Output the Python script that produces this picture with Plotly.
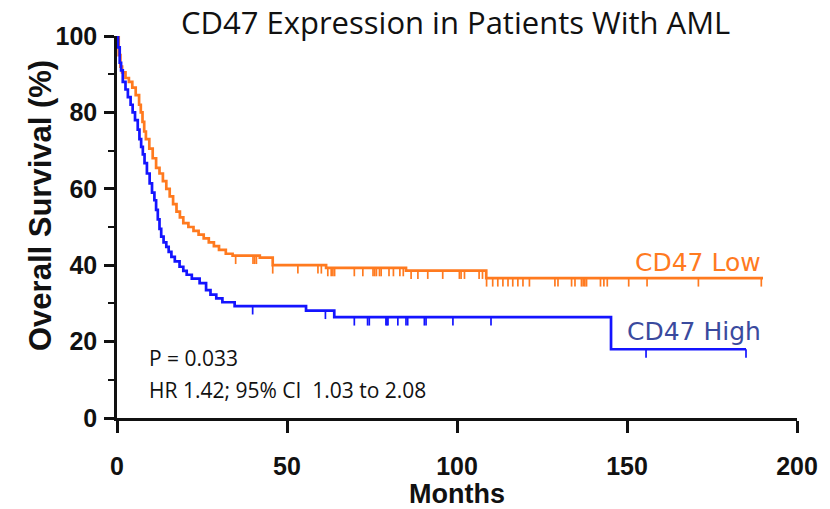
import plotly.graph_objects as go

# ---- Data ----
low_months = [0, 0.5, 1, 1.5, 2.5, 3.5, 4.5, 5.5, 6.5, 7, 7.5, 8, 8.5, 9.5, 10.5, 11.5, 12.5,
              13.5, 14.5, 15.5, 16.5, 17.5, 18.5, 19.5, 21, 22.5, 24, 25.5, 27, 28.5, 30, 32,
              34, 42, 45.8, 61.5, 85, 108.6, 190]
low_surv = [100, 95, 92, 90.5, 89, 88, 86.5, 84.5, 82, 80, 77.5, 75, 73, 70.5, 68, 65.5, 64,
            62, 60, 58, 56, 54, 52.5, 51, 50, 49, 48, 47, 46, 45, 44, 43,
            42.5, 42, 40, 39.3, 38.6, 36.6, 36.6]
low_censor = [34.9, 40, 40.5, 41, 45.8, 53.2, 59.1, 60.1, 62, 63, 63.5, 64, 69.8, 72.3, 75.3,
              75.8, 76.3, 77.2, 77.7, 80, 81.3, 83.2, 84.2, 86.5, 88.5, 91.4, 95.8, 100.7,
              101.2, 102.2, 106.5, 107.5, 108.7, 110.5, 112, 113.5, 115, 116.4, 117.9, 119.4,
              121.3, 128.8, 129.7, 133.7, 134.7, 136.6, 137.1, 137.6, 138.1, 142.2, 143.2,
              144.2, 150.5, 155.9, 171, 189.5]

high_months = [0, 0.3, 0.8, 1.2, 1.7, 2.5, 3.2, 4, 4.6, 5.3, 6.1, 6.6, 7.1, 7.6, 8.1, 8.8, 9.6,
               10.3, 11, 11.5, 12, 12.5, 13, 13.7, 14.5, 15.2, 16, 17, 18.4, 19.5, 20.5, 22,
               24.3, 26.2, 27.5, 29.2, 31, 34.6, 55.6, 63.9, 145.3, 185]
high_surv = [100, 97, 93, 91, 88, 86, 84, 82, 80, 78, 75.5, 73, 71, 69, 66.7, 64, 61.4,
             59, 57, 54.5, 52, 49.5, 47.5, 46, 44.8, 43.5, 42.2, 41, 39.6, 38.5, 37.5, 36.5,
             35.3, 33.5, 32.3, 31.3, 30.3, 29.3, 28.1, 26.4, 18, 18]
high_censor = [39.9, 61.3, 69.8, 73.7, 74.2, 79.1, 79.4, 79.7, 82.6, 85, 85.5, 90.4, 90.9,
               98.8, 110, 155.6, 185]

series_names = ["CD47 Low", "CD47 High"]
x_ticks = [0, 50, 100, 150, 200]
y_ticks = [0, 20, 40, 60, 80, 100]

ORANGE = "#FF7A1F"
BLUE = "#1414FF"


def level_at(months, surv, t):
    lvl = surv[0]
    for m, s in zip(months, surv):
        if m <= t:
            lvl = s
        else:
            break
    return lvl


def censor_segments(months, surv, cens, drop=2.2):
    xs, ys = [], []
    for t in cens:
        lvl = level_at(months, surv, t)
        xs += [t, t, None]
        ys += [lvl, lvl - drop, None]
    return xs, ys


fig = go.Figure()

for months, surv, cens, color in [
    (low_months, low_surv, low_censor, ORANGE),
    (high_months, high_surv, high_censor, BLUE),
]:
    fig.add_trace(go.Scatter(x=months, y=surv, mode="lines", line=dict(color=color, width=2.7, shape="hv"),
                             showlegend=False, hoverinfo="skip", cliponaxis=False))
    cx, cy = censor_segments(months, surv, cens)
    fig.add_trace(go.Scatter(x=cx, y=cy, mode="lines", line=dict(color=color, width=1.7),
                             showlegend=False, hoverinfo="skip", cliponaxis=False))

FAM = "Liberation Sans Narrow, Arial Narrow, Liberation Sans, Arial"
tick_font = dict(family=FAM, size=25, color="#111111")

W, H = 830, 509
L, R, T, B = 117, 33, 36, 91

fig.update_layout(
    width=W, height=H,
    margin=dict(l=L, r=R, t=T, b=B, autoexpand=False),
    paper_bgcolor="white", plot_bgcolor="white",
    xaxis=dict(range=[0, 200], tickvals=x_ticks, ticktext=[f"<b>{v}</b>" for v in x_ticks],
               showline=True, linecolor="#111111", linewidth=2.5, ticks="outside", ticklen=12,
               tickwidth=2.5, tickcolor="#111111", showgrid=False, zeroline=False, automargin=False,
               tickfont=tick_font, ticklabelstandoff=12,
               title=dict(text="<b>Months</b>", font=dict(family=FAM, size=27, color="#111111"), standoff=4)),
    yaxis=dict(range=[0, 100], tickvals=y_ticks, ticktext=[f"<b>{v}</b>" for v in y_ticks],
               showline=True, linecolor="#111111", linewidth=2.5, ticks="outside", ticklen=10,
               tickwidth=2.5, tickcolor="#111111", showgrid=False, zeroline=False, automargin=False,
               minor=dict(dtick=10, tick0=0, ticks="outside", ticklen=6, tickwidth=2, tickcolor="#111111"),
               tickfont=tick_font, ticklabelstandoff=2),
)

# y-axis title placed as rotated annotation (sits above the plot centre in the reference)
fig.add_annotation(text="<b>Overall Survival (%)</b>", xref="paper", yref="paper",
                   x=(40 - L) / (W - L - R), y=(H - B - 206) / (H - T - B), textangle=-90,
                   xanchor="center", yanchor="middle", showarrow=False,
                   font=dict(family=FAM, size=31, color="#111111"))

fig.add_annotation(text="CD47 Expression in Patients With AML", xref="paper", yref="paper",
                   x=(455 - L) / (W - L - R), y=1, yshift=14, xanchor="center", yanchor="middle", showarrow=False,
                   font=dict(family="Open Sans", size=31, color="#111111"))

fig.add_annotation(text="CD47 Low", x=190, y=low_surv[-1], xanchor="right", yanchor="bottom",
                   yshift=-1, showarrow=False,
                   font=dict(family="DejaVu Sans", size=25, color=ORANGE))
fig.add_annotation(text="CD47 High", x=190, y=high_surv[-1], xanchor="right", yanchor="bottom",
                   yshift=1, showarrow=False,
                   font=dict(family="DejaVu Sans", size=25, color="#3A4A9E"))

stat_font = dict(family="Open Sans", size=21, color="#111111")
fig.add_annotation(text="P = 0.033", x=8.7, y=15.8, xanchor="left", yanchor="middle",
                   showarrow=False, font=stat_font)
fig.add_annotation(text="HR 1.42; 95% CI  1.03 to 2.08", x=8.7, y=7.4, xanchor="left", yanchor="middle",
                   showarrow=False, font=stat_font)

fig.write_html("out.html")
